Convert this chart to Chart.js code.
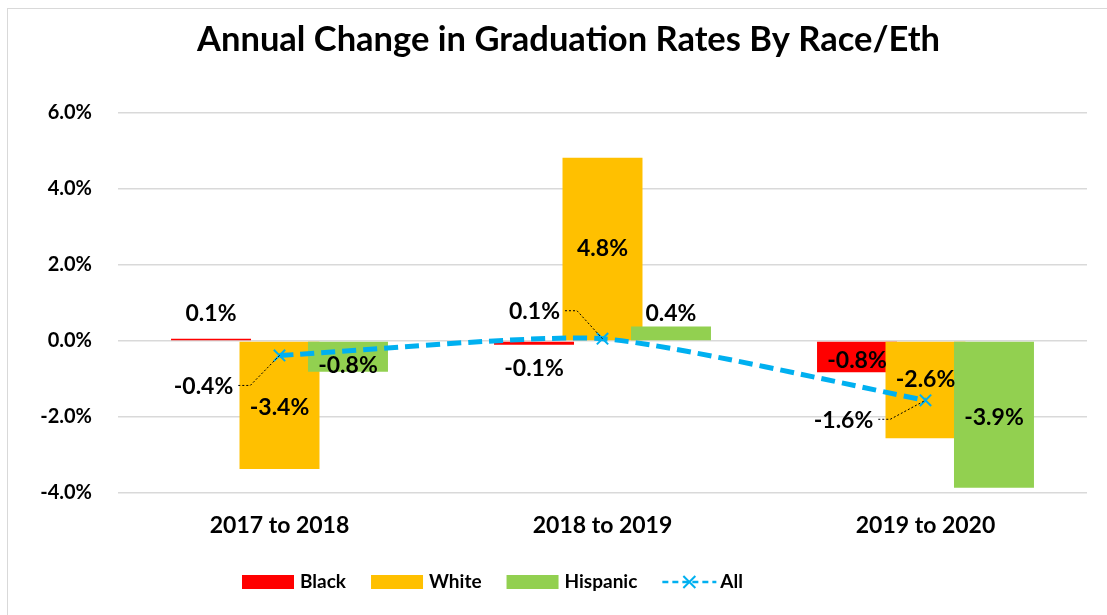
<!DOCTYPE html>
<html>
<head>
<meta charset="utf-8">
<script src="https://cdn.jsdelivr.net/npm/chart.js@4"></script>
<style>
  html, body { margin: 0; padding: 0; background: #fff; }
  #wrap { position: relative; width: 1107px; height: 615px; overflow: hidden; }
  #frame { position: absolute; left: 7px; top: 8px; width: 1200px; height: 700px; border: 1.5px solid #d9d9d9; }
  canvas { position: absolute; left: 0; top: 0; }
</style>
</head>
<body>
<div id="wrap">
  <div id="frame"></div>
  <canvas id="chart" width="1107" height="615"></canvas>
</div>
<script>
const title = "Annual Change in Graduation Rates By Race/Eth";
const categories = ["2017 to 2018", "2018 to 2019", "2019 to 2020"];
const black = [0.06, -0.1, -0.82];
const white = [-3.37, 4.82, -2.56];
const hispanic = [-0.81, 0.38, -3.86];
const all = [-0.38, 0.06, -1.56];
const yTicks = [-4, -2, 0, 2, 4, 6];

// label placement (style only)
const barLabelPos = [
  ["end", "end", "center"],
  ["center", "center", "center"],
  ["center", "end", "center"],
];
const barLabelNudge = [
  [-11, 10, 4],
  [2, 0, -10],
  [9, 1, 3],
];
const lineLabelOffset = [[-76, 31], [-68, -27], [-82, 20]];

const FONT = "Lato";
Chart.defaults.font.family = FONT;
Chart.defaults.color = "#000";

const pct = (v) => v.toFixed(1) + "%";

// draw bars in index order (Black, White, Hispanic) under the line
const barOrder = {
  id: "barOrder",
  beforeDatasetDraw(chart, args) {
    if (args.meta.type === "bar") return false;
    if (args.meta.type === "line") {
      chart.data.datasets.forEach((ds, i) => {
        const meta = chart.getDatasetMeta(i);
        if (meta.type === "bar") meta.controller.draw();
      });
    }
  },
};

const labels = {
  id: "labels",
  afterDatasetsDraw(chart) {
    const ctx = chart.ctx;
    ctx.save();
    ctx.font = "bold 23px " + FONT;
    ctx.fillStyle = "#000";
    ctx.textAlign = "center";
    ctx.textBaseline = "middle";
    chart.data.datasets.forEach((ds, i) => {
      const meta = chart.getDatasetMeta(i);
      meta.data.forEach((el, j) => {
        const v = ds.data[j];
        if (meta.type === "bar") {
          let y;
          if (barLabelPos[i][j] === "center") y = (el.y + el.base) / 2;
          else y = v >= 0 ? el.y - 14 : el.y + 14;
          ctx.fillText(pct(v), el.x, y + barLabelNudge[i][j]);
        } else {
          const [dx, dy] = lineLabelOffset[j];
          const tx = el.x + dx, ty = el.y + dy;
          const t = pct(v);
          ctx.fillText(t, tx, ty);
          const w = ctx.measureText(t).width;
          const sx = tx + w / 2 + 5;
          ctx.save();
          ctx.strokeStyle = "#000";
          ctx.lineWidth = 1;
          ctx.setLineDash([2, 2]);
          ctx.beginPath();
          ctx.moveTo(sx, ty - 1);
          ctx.lineTo(sx + 12, ty - 1);
          ctx.lineTo(el.x, el.y);
          ctx.stroke();
          ctx.restore();
        }
      });
    });
    ctx.restore();
  },
};

// title and legend, drawn by hand
const decor = {
  id: "decor",
  afterDraw(chart) {
    const ctx = chart.ctx;
    ctx.save();
    ctx.fillStyle = "#000";
    ctx.textAlign = "center";
    ctx.textBaseline = "middle";
    ctx.font = "bold 34.5px " + FONT;
    ctx.fillText(title, 568.5, 40);

    ctx.textAlign = "left";
    ctx.font = "bold 19px " + FONT;
    let x = 242;
    const y = 582;
    chart.data.datasets.forEach((ds) => {
      if (ds.type === "line") {
        ctx.save();
        ctx.strokeStyle = ds.borderColor;
        ctx.lineWidth = 2.5;
        ctx.setLineDash([6, 4]);
        ctx.beginPath();
        ctx.moveTo(x, y);
        ctx.lineTo(x + 54, y);
        ctx.stroke();
        ctx.setLineDash([]);
        ctx.lineWidth = 2;
        ctx.beginPath();
        ctx.moveTo(x + 21, y - 6); ctx.lineTo(x + 33, y + 6);
        ctx.moveTo(x + 33, y - 6); ctx.lineTo(x + 21, y + 6);
        ctx.stroke();
        ctx.restore();
      } else {
        ctx.fillStyle = ds.backgroundColor;
        ctx.fillRect(x, y - 7, 52, 14);
      }
      ctx.fillStyle = "#000";
      ctx.fillText(ds.label, x + 58, y);
      x += 58 + ctx.measureText(ds.label).width + 25;
    });
    ctx.restore();
  },
};

new Chart(document.getElementById("chart"), {
  data: {
    labels: categories,
    datasets: [
      { type: "bar", label: "Black", data: black, backgroundColor: "#ff0000" },
      { type: "bar", label: "White", data: white, backgroundColor: "#ffc000" },
      { type: "bar", label: "Hispanic", data: hispanic, backgroundColor: "#92d050" },
      {
        type: "line",
        label: "All",
        data: all,
        order: -1,
        borderColor: "#00b0f0",
        borderWidth: 5,
        borderDash: [14, 7],
        tension: 0.2,
        pointStyle: "crossRot",
        pointRadius: 8,
        pointBorderWidth: 2,
        pointBorderColor: "#00b0f0",
        pointBackgroundColor: "#00b0f0",
      },
    ],
  },
  options: {
    responsive: false,
    animation: false,
    layout: { padding: { left: 0, right: 20, top: 113, bottom: 0 } },
    datasets: {
      bar: { categoryPercentage: 0.636, barPercentage: 1.168 },
    },
    scales: {
      x: {
        grid: { display: false, drawTicks: false },
        border: { display: false },
        ticks: { font: { size: 23, weight: "bold" }, padding: 19 },
        afterFit: (s) => { s.height = 122; },
      },
      y: {
        min: -4,
        max: 6,
        afterBuildTicks: (s) => { s.ticks = yTicks.map((v) => ({ value: v })); },
        grid: { color: "#d9d9d9", lineWidth: 1.5, drawTicks: false },
        border: { display: false },
        ticks: { font: { size: 20, weight: "bold" }, padding: 26, callback: (v) => pct(v) },
        afterFit: (s) => { s.width = 118; },
      },
    },
    plugins: {
      legend: { display: false },
      tooltip: { enabled: false },
      title: { display: false },
    },
  },
  plugins: [barOrder, labels, decor],
});
</script>
</body>
</html>
